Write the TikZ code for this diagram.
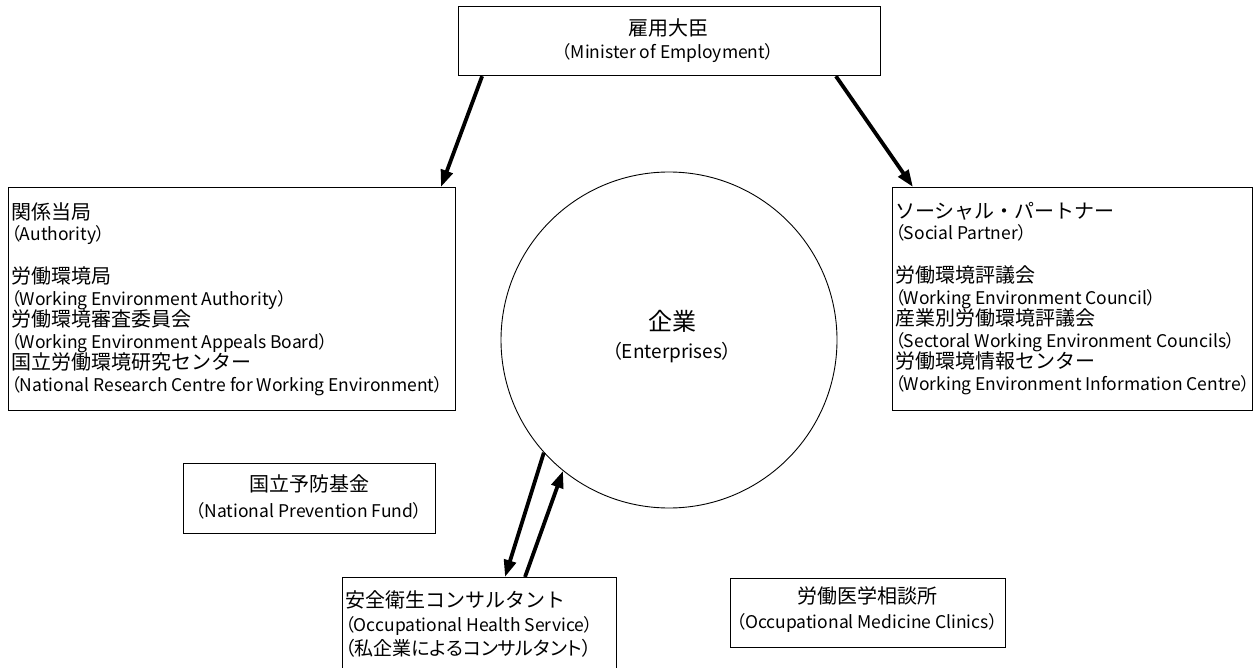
\documentclass[tikz,border=0pt]{standalone}
\usepackage{fontspec}
\newfontfamily\jpf{Noto Sans CJK JP}
\newfontfamily\enf{Noto Sans CJK JP}[RawFeature=+palt]
\newcommand\JJ{\jpf\fontsize{20}{21.5}\selectfont}
\newcommand\EE{\enf\fontsize{17.5}{21.5}\selectfont}
\usetikzlibrary{arrows.meta,calc}
\begin{document}
\begin{tikzpicture}[x=1pt,y=-1pt,
  box/.style={draw, line width=1.2pt, inner sep=0, anchor=north west},
  txt/.style={inner sep=0, align=left, anchor=north west},
  ctxt/.style={inner sep=0, align=center, anchor=north},
  arr/.style={line width=3.8pt, -{Triangle[length=17pt,width=12pt]}}]
\useasboundingbox (0,0) rectangle (1260,668);
% boxes
\node[box, minimum width=422, minimum height=69] (top) at (458,6) {};
\node[box, minimum width=447, minimum height=223] (L) at (8,187) {};
\node[box, minimum width=360, minimum height=223] (R) at (892,187) {};
\node[box, minimum width=252, minimum height=70] (F) at (183,463) {};
\node[box, minimum width=274, minimum height=95] (C) at (342,577) {};
\node[box, minimum width=275, minimum height=69] (M) at (730,578) {};
\node[draw, circle, line width=0.9pt, minimum size=336, inner sep=0] (ent) at (669,340) {};
% texts
\node[ctxt, font=\fontsize{20}{23}\selectfont] (topt) at (668,19) {\JJ 雇用大臣\\\EE （Minister of Employment）};
\node[txt, font=\fontsize{20}{21.5}\selectfont] (Lt) at (11,202) {\JJ 関係当局\\\EE （Authority）\\~\\\JJ 労働環境局\\\EE （Working Environment Authority）\\\JJ 労働環境審査委員会\\\EE （Working Environment Appeals Board）\\\JJ 国立労働環境研究センター\\\EE （National Research Centre for Working Environment）};
\node[txt, font=\fontsize{20}{21.5}\selectfont] (Rt) at (895,202) {\JJ ソーシャル・パートナー\\\EE （Social Partner）\\~\\\JJ 労働環境評議会\\\EE （Working Environment Council）\\\JJ 産業別労働環境評議会\\\EE （Sectoral Working Environment Councils）\\\JJ 労働環境情報センター\\\EE （Working Environment Information Centre）};
\node[ctxt, font=\fontsize{24}{28}\selectfont] (entt) at (672,310) {\JJ\fontsize{24}{28}\selectfont 企業\\\EE\fontsize{19}{28}\selectfont （Enterprises）};
\node[ctxt, font=\fontsize{20}{26}\selectfont] (Ft) at (309,474) {\JJ 国立予防基金\\\EE （National Prevention Fund）};
\node[txt, font=\fontsize{20}{24}\selectfont] (Ct) at (345,590) {\JJ 安全衛生コンサルタント\\\EE （Occupational Health Service）\\\enf\fontsize{19}{24}\selectfont （私企業によるコンサルタント）};
\node[ctxt, font=\fontsize{20}{25}\selectfont] (Mt) at (867,586) {\JJ 労働医学相談所\\\EE （Occupational Medicine Clinics）};
% arrows
\draw[arr] ($(top.south west)!0.057!(top.south east)$) -- ($(L.north west)!0.966!(L.north east)$);
\draw[arr] ($(top.south west)!0.893!(top.south east)$) -- ($(R.north west)!0.058!(R.north east)$);
\draw[arr] (ent.222) -- ($(C.north west)+(163,0)$);
\draw[arr] ($(C.north west)+(183,0)$) -- (ent.231);
\end{tikzpicture}
\end{document}
